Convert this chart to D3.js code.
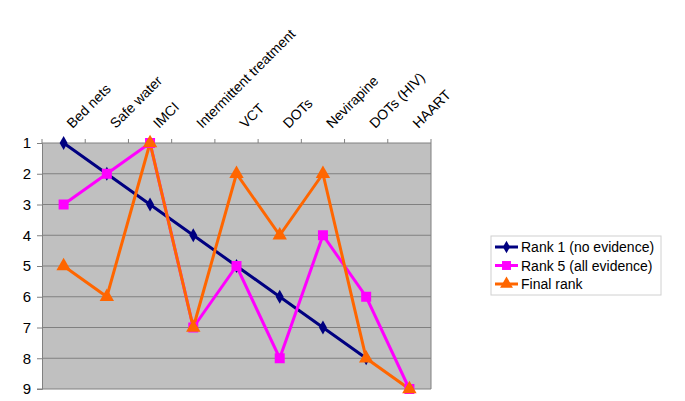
<!DOCTYPE html>
<html>
<head>
<meta charset="utf-8">
<script src="https://cdn.jsdelivr.net/npm/d3@7"></script>
<style>
  body { margin:0; background:#fff; }
  text { font-family: "Liberation Sans", Arial, sans-serif; fill:#000; }
</style>
</head>
<body>
<svg id="chart" width="685" height="401"></svg>
<script>
// -- data
var categories = ["Bed nets","Safe water","IMCI","Intermittent treatment","VCT","DOTs","Nevirapine","DOTs (HIV)","HAART"];
var rank1 = [1,2,3,4,5,6,7,8,null];
var rank5 = [3,2,1,7,5,8,4,6,9];
var finalRank = [5,6,1,7,2,4,2,8,9];
var rankTicks = [1,2,3,4,5,6,7,8,9];

var series = [
    {name:"Rank 1 (no evidence)", values:rank1, color:"#000080", marker:"diamond"},
    {name:"Rank 5 (all evidence)", values:rank5, color:"#ff00ff", marker:"square"},
    {name:"Final rank", values:finalRank, color:"#ff6600", marker:"triangle"}
];

var svg = d3.select("#chart");
var plot = {left:42, right:431, top:143, bottom:389};

var x = d3.scaleBand().domain(categories).range([plot.left, plot.right]);
var y = d3.scaleLinear().domain([1,9]).range([plot.top, plot.bottom]);

// -- plot background
svg.append("rect").attr("x",plot.left).attr("y",plot.top)
    .attr("width",plot.right-plot.left).attr("height",plot.bottom-plot.top)
    .style("fill","#c0c0c0");

// -- gridlines
svg.append("g").selectAll("line").data(rankTicks.slice(1,-1)).enter().append("line")
    .attr("x1",plot.left).attr("x2",plot.right)
    .attr("y1",function(d){return y(d);}).attr("y2",function(d){return y(d);})
    .style("stroke","#808080").style("stroke-width",1);

// border (top + right in grey)
svg.append("path")
    .attr("d","M"+plot.left+","+plot.top+"H"+plot.right+"V"+plot.bottom)
    .style("fill","none").style("stroke","#808080").style("stroke-width",1);

// -- y axis
var yAxis = d3.axisLeft(y).tickValues(rankTicks).tickSize(5).tickPadding(6).tickFormat(d3.format("d"));
var yG = svg.append("g").attr("transform","translate("+plot.left+",0)").call(yAxis);
yG.select(".domain").style("stroke","#808080");
yG.selectAll(".tick line").style("stroke","#808080");
yG.selectAll("text").style("font-size","15px").style("font-family","Liberation Sans, Arial, sans-serif");

// bottom line
svg.append("line").attr("x1",plot.left-5).attr("x2",plot.right)
    .attr("y1",plot.bottom).attr("y2",plot.bottom)
    .style("stroke","#808080");

// -- x axis on top: ticks at band boundaries
var bounds = categories.map(function(c){return x(c);}).concat([plot.right]);
svg.append("g").selectAll("line").data(bounds).enter().append("line")
    .attr("x1",function(d){return d;}).attr("x2",function(d){return d;})
    .attr("y1",plot.top).attr("y2",plot.top-4)
    .style("stroke","#808080");

svg.append("g").selectAll("text").data(categories).enter().append("text")
    .attr("transform",function(d){
        return "translate("+(x(d)+x.bandwidth()/2+9)+","+(plot.top-14)+") rotate(-45)";
    })
    .style("font-size","14px")
    .text(function(d){return d;});

// -- lines
var line = d3.line()
    .defined(function(d){return d!=null;})
    .x(function(d,i){return x(categories[i])+x.bandwidth()/2;})
    .y(function(d){return y(d);});

var symbolType = {diamond:d3.symbolDiamond, square:d3.symbolSquare, triangle:d3.symbolTriangle};
var symbolSize = {diamond:55, square:100, triangle:90};

series.forEach(function(s){
    svg.append("path").datum(s.values).attr("d",line)
        .style("fill","none").style("stroke",s.color).style("stroke-width",3)
        .style("stroke-linejoin","miter");
});
series.forEach(function(s){
    svg.append("g").selectAll("path")
        .data(s.values.map(function(v,i){return {v:v,i:i};}).filter(function(d){return d.v!=null;}))
        .enter().append("path")
        .attr("transform",function(d){return "translate("+(x(categories[d.i])+x.bandwidth()/2)+","+y(d.v)+")";})
        .attr("d",d3.symbol().type(symbolType[s.marker]).size(symbolSize[s.marker]))
        .style("fill",s.color);
});

// -- legend
var legend = svg.append("g").attr("transform","translate(491,236)");
legend.append("rect").attr("width",170).attr("height",59)
    .style("fill","#fff").style("stroke","#d0d0d0");
var items = legend.selectAll(".item").data(series).enter().append("g")
    .attr("class","item")
    .attr("transform",function(d,i){return "translate(0,"+(11+i*18.5)+")";});
items.append("line").attr("x1",4).attr("x2",27).attr("y1",0).attr("y2",0)
    .style("stroke",function(d){return d.color;}).style("stroke-width",3);
items.append("path").attr("transform","translate(15.5,0)")
    .attr("d",function(d){return d3.symbol().type(symbolType[d.marker]).size(symbolSize[d.marker]*0.8)();})
    .style("fill",function(d){return d.color;});
items.append("text").attr("x",30).attr("dy","0.36em").style("font-size","14px")
    .text(function(d){return d.name;});
</script>
</body>
</html>
